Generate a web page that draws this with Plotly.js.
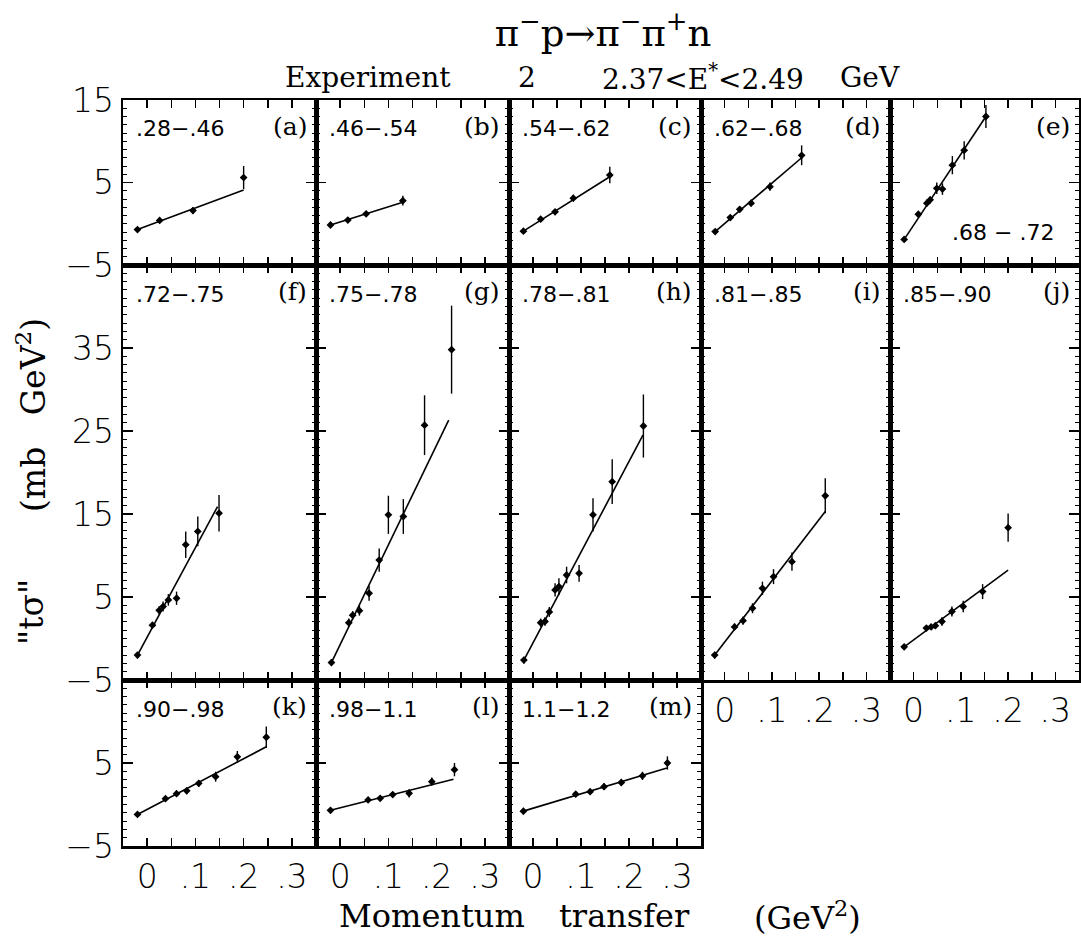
<!DOCTYPE html>
<html>
<head>
<meta charset="utf-8">
<script src="https://cdn.plot.ly/plotly-3.0.1.min.js"></script>
<style>
  html, body { margin: 0; padding: 0; background: #fff; }
  #chart { width: 1081px; height: 937px; }
</style>
</head>
<body>
<div id="chart"></div>
<script>
// pi- p -> pi- pi+ n, Experiment 2, 2.37 < E* < 2.49 GeV
// "t sigma" versus momentum transfer, one panel per dipion mass bin.

const panelIds  = ['a','b','c','d','e','f','g','h','i','j','k','l','m'];
const massBins  = ['.28−.46', '.46−.54', '.54−.62', '.62−.68', '.68 − .72',
                   '.72−.75', '.75−.78', '.78−.81', '.81−.85', '.85−.90',
                   '.90−.98', '.98−1.1', '1.1−1.2'];

// momentum transfer (GeV^2), t*sigma (mb GeV^2), error
const tA = [-0.02, 0.026, 0.095, 0.20];
const yA = [-0.7, 0.4, 1.6, 5.6];
const eA = [0.3, 0.3, 0.4, 1.4];

const tB = [-0.02, 0.016, 0.054, 0.13];
const yB = [-0.15, 0.45, 1.2, 2.8];
const eB = [0.3, 0.3, 0.3, 0.6];

const tC = [-0.02, 0.016, 0.046, 0.084, 0.16];
const yC = [-0.9, 0.55, 1.45, 3.1, 5.9];
const eC = [0.3, 0.3, 0.3, 0.4, 1.0];

const tD = [-0.02, 0.012, 0.032, 0.056, 0.096, 0.163];
const yD = [-0.95, 0.75, 1.75, 2.5, 4.5, 8.3];
const eD = [0.3, 0.3, 0.3, 0.4, 0.5, 1.2];

const tE = [-0.02, 0.01, 0.028, 0.035, 0.049, 0.061, 0.082, 0.107, 0.153];
const yE = [-1.9, 1.15, 2.5, 2.9, 4.3, 4.2, 7.1, 8.9, 13.0];
const eE = [0.3, 0.3, 0.4, 0.4, 0.7, 0.7, 1.1, 1.1, 1.4];

const tF = [-0.02, 0.011, 0.025, 0.033, 0.044, 0.061, 0.08, 0.105, 0.149];
const yF = [-2.0, 1.6, 3.4, 3.85, 4.65, 4.85, 11.3, 12.9, 15.1];
const eF = [0.4, 0.4, 0.5, 0.6, 0.7, 0.8, 1.6, 1.8, 2.2];

const tG = [-0.018, 0.018, 0.026, 0.04, 0.06, 0.081, 0.1, 0.131, 0.175, 0.231];
const yG = [-2.9, 1.9, 2.8, 3.35, 5.45, 9.45, 14.9, 14.7, 25.7, 34.8];
const eG = [0.4, 0.5, 0.5, 0.6, 0.9, 1.4, 2.3, 2.1, 3.6, 5.3];

const tH = [-0.019, 0.016, 0.025, 0.034, 0.046, 0.054, 0.07, 0.096, 0.125, 0.165, 0.23];
const yH = [-2.6, 1.9, 2.05, 3.2, 5.85, 6.25, 7.65, 7.85, 14.9, 18.9, 25.6];
const eH = [0.4, 0.5, 0.5, 0.6, 0.8, 1.0, 1.0, 1.0, 2.0, 2.7, 3.8];

const tI = [-0.021, 0.021, 0.039, 0.059, 0.08, 0.1035, 0.1425, 0.213];
const yI = [-2.0, 1.4, 2.15, 3.65, 6.05, 7.45, 9.25, 17.2];
const eI = [0.4, 0.4, 0.5, 0.6, 0.8, 0.9, 1.1, 2.1];

const tJ = [-0.02, 0.027, 0.037, 0.046, 0.06, 0.081, 0.105, 0.146, 0.2];
const yJ = [-1.0, 1.25, 1.4, 1.55, 2.05, 3.25, 3.85, 5.65, 13.35];
const eJ = [0.3, 0.3, 0.3, 0.3, 0.5, 0.6, 0.7, 0.9, 1.7];

const tK = [-0.02, 0.038, 0.061, 0.082, 0.107, 0.142, 0.187, 0.247];
const yK = [-1.2, 0.7, 1.3, 1.65, 2.55, 3.35, 5.75, 8.1];
const eK = [0.3, 0.3, 0.3, 0.4, 0.4, 0.6, 0.7, 1.3];

const tL = [-0.02, 0.058, 0.083, 0.109, 0.143, 0.19, 0.237];
const yL = [-0.7, 0.55, 0.75, 1.2, 1.35, 2.75, 4.2];
const eL = [0.2, 0.2, 0.2, 0.3, 0.5, 0.5, 0.8];

const tM = [-0.02, 0.089, 0.119, 0.148, 0.184, 0.228, 0.28];
const yM = [-0.8, 1.25, 1.55, 2.15, 2.65, 3.45, 5.0];
const eM = [0.4, 0.3, 0.3, 0.4, 0.4, 0.5, 0.8];

// straight-line fits: start/end transfer and value
const fitT0 = [-0.02, -0.02, -0.02, -0.02, -0.02, -0.02, -0.018, -0.019, -0.021, -0.02, -0.02, -0.02, -0.02];
const fitT1 = [0.20, 0.13, 0.16, 0.163, 0.153, 0.146, 0.225, 0.229, 0.213, 0.20, 0.247, 0.235, 0.279];
const fitY0 = [-0.7, -0.15, -0.9, -0.95, -1.9, -2.0, -2.9, -2.6, -2.0, -1.0, -1.2, -0.7, -0.8];
const fitY1 = [4.1, 2.6, 5.7, 8.0, 13.0, 15.9, 26.3, 24.5, 15.3, 8.25, 6.95, 3.05, 4.4];

// tick labels
const xTickVals = [0, 0.1, 0.2, 0.3];
const xTickText = ['0', '.1', '.2', '.3'];
const yTickValsShort = [-5, 5, 15];
const yTickValsTall  = [-5, 5, 15, 25, 35];
const yTickValsLow   = [-5, 5];

const series = [
  [tA, yA, eA], [tB, yB, eB], [tC, yC, eC], [tD, yD, eD], [tE, yE, eE],
  [tF, yF, eF], [tG, yG, eG], [tH, yH, eH], [tI, yI, eI], [tJ, yJ, eJ],
  [tK, yK, eK], [tL, yL, eL], [tM, yM, eM]
];

// ---- page geometry (pixels) ----
const W = 1081, H = 937;
const colEdges = [123, 316, 509, 701, 890, 1079];
const rowEdges = [100, 265, 680, 846];
const rowRanges = [[-5, 15], [-5, 45], [-5, 15]];
const rowTicks = [yTickValsShort, yTickValsTall, yTickValsLow];
const fx = p => p / W;
const fy = p => 1 - p / H;

const tickFont  = { family: 'DejaVu Sans', size: 33, color: '#000', weight: 200 };
const serif     = 'DejaVu Serif';
const sans      = 'DejaVu Sans';

const traces = [];
const layout = {
  width: W, height: H,
  margin: { l: 0, r: 0, t: 0, b: 0 },
  paper_bgcolor: '#fff', plot_bgcolor: '#fff',
  showlegend: false,
  title: {
    text: 'π<sup>−</sup>p→π<sup>−</sup>π<sup>+</sup>n',
    x: fx(603), y: fy(33), xanchor: 'center', yanchor: 'middle',
    font: { family: serif, size: 37, color: '#000' }
  },
  annotations: []
};

panelIds.forEach((id, i) => {
  const row = i < 5 ? 0 : (i < 10 ? 1 : 2);
  const col = i % 5;
  const n = i + 1;
  const xa = 'xaxis' + (n === 1 ? '' : n);
  const ya = 'yaxis' + (n === 1 ? '' : n);
  const xr = 'x' + (n === 1 ? '' : n);
  const yr = 'y' + (n === 1 ? '' : n);
  const showX = (i >= 8);
  const showY = (col === 0);

  layout[xa] = {
    domain: [fx(colEdges[col]), fx(colEdges[col + 1])],
    anchor: yr,
    range: [-0.05, 0.35],
    tickmode: 'array', tickvals: xTickVals, ticktext: xTickText,
    ticks: 'inside', ticklen: 8, tickwidth: 1.5, tickcolor: '#000',
    minor: { dtick: 0.05, tick0: 0, ticks: 'inside', ticklen: 8, tickwidth: 1.5, tickcolor: '#000', showgrid: false },
    showticklabels: showX, tickfont: tickFont,
    showline: true, linewidth: 2.5, linecolor: '#000', mirror: 'allticks',
    showgrid: false, zeroline: false, fixedrange: true
  };
  layout[ya] = {
    domain: [fy(rowEdges[row + 1]), fy(rowEdges[row])],
    anchor: xr,
    range: rowRanges[row],
    tickmode: 'array', tickvals: rowTicks[row],
    ticks: 'inside', ticklen: 10, tickwidth: 1.5, tickcolor: '#000',
    minor: { dtick: 1, tick0: 0, ticks: 'inside', ticklen: 4, tickwidth: 1, tickcolor: '#000', showgrid: false },
    showticklabels: showY, tickfont: tickFont,
    showline: true, linewidth: 2.5, linecolor: '#000', mirror: 'allticks',
    showgrid: false, zeroline: false, fixedrange: true
  };

  const [t, v, e] = series[i];
  traces.push({
    type: 'scatter', mode: 'lines', xaxis: xr, yaxis: yr,
    x: [fitT0[i], fitT1[i]], y: [fitY0[i], fitY1[i]],
    line: { color: '#000', width: 1.6 }, hoverinfo: 'skip'
  });
  traces.push({
    type: 'scatter', mode: 'markers', xaxis: xr, yaxis: yr,
    x: t, y: v,
    marker: { symbol: 'diamond', size: 6, color: '#000' },
    error_y: { type: 'data', array: e, visible: true, color: '#000', thickness: 1.4, width: 0 }
  });

  // mass-bin label and panel letter
  const top = rowEdges[row];
  const binPos = id === 'e' ? [950, 232] : [colEdges[col] + 11, top + 29];
  layout.annotations.push({
    xref: 'paper', yref: 'paper', x: fx(binPos[0]), y: fy(binPos[1]),
    xanchor: 'left', yanchor: 'middle', showarrow: false,
    text: massBins[i], font: { family: sans, size: 22, color: '#000' }
  });
  layout.annotations.push({
    xref: 'paper', yref: 'paper', x: fx(colEdges[col + 1] - 7), y: fy(top + 26),
    xanchor: 'right', yanchor: 'middle', showarrow: false,
    text: '(' + id + ')', font: { family: serif, size: 25, color: '#000' }
  });
});

// header line under the reaction
const headerFont = { family: serif, size: 28, color: '#000' };
[
  ['Experiment', 283, 'left'],
  ['2', 527, 'center'],
  ['2.37&lt;E<sup>*</sup>&lt;2.49', 600, 'left'],
  ['GeV', 838, 'left']
].forEach(([txt, x, anchor]) => {
  layout.annotations.push({
    xref: 'paper', yref: 'paper', x: fx(x), y: fy(77),
    xanchor: anchor, yanchor: 'middle', showarrow: false,
    text: txt, font: headerFont
  });
});

// vertical axis title
layout.annotations.push({
  xref: 'paper', yref: 'paper', x: fx(31), y: fy(612),
  xanchor: 'center', yanchor: 'middle', showarrow: false, textangle: -90,
  text: '"tσ"', font: { family: serif, size: 33, color: '#000' }
});
layout.annotations.push({
  xref: 'paper', yref: 'paper', x: fx(31), y: fy(415),
  xanchor: 'center', yanchor: 'middle', showarrow: false, textangle: -90,
  text: '(mb\u00a0\u00a0\u00a0GeV<sup>2</sup>)', font: { family: serif, size: 33, color: '#000' }
});

// horizontal axis title
[
  ['Momentum', 337],
  ['transfer', 557],
  ['(GeV<sup>2</sup>)', 752]
].forEach(([txt, x]) => {
  layout.annotations.push({
    xref: 'paper', yref: 'paper', x: fx(x), y: fy(916),
    xanchor: 'left', yanchor: 'middle', showarrow: false,
    text: txt, font: { family: serif, size: 32, color: '#000' }
  });
});

Plotly.newPlot('chart', traces, layout, { staticPlot: true });
</script>
</body>
</html>
